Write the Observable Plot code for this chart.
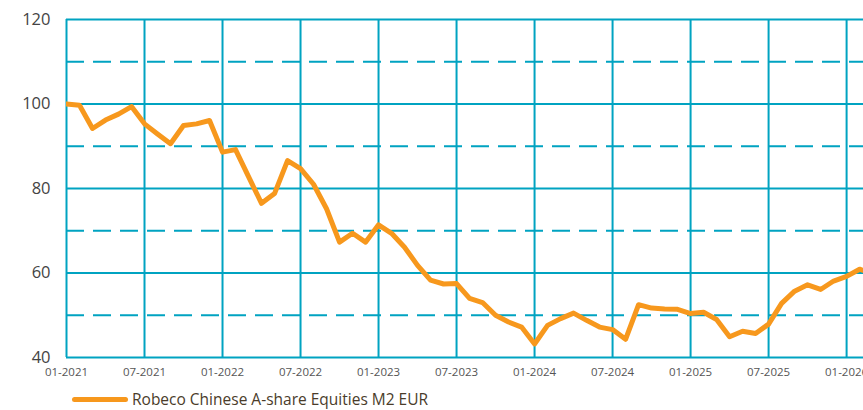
<!DOCTYPE html>
<html>
<head>
<meta charset="utf-8">
<script src="https://cdn.jsdelivr.net/npm/d3@7"></script>
<script src="https://cdn.jsdelivr.net/npm/@observablehq/plot@0.6"></script>
<style>
  html, body { margin: 0; padding: 0; background: #fff; }
  #chart { width: 863px; height: 410px; overflow: hidden; position: relative; }
  .legend { display: flex; align-items: center; height: 22px; padding-left: 72px; font-family: "Open Sans", sans-serif; font-size: 15.5px; color: #4a3c2a; }
  .legend .sw { width: 56px; height: 5px; border-radius: 3px; background: #f7981d; margin-right: 4px; }
</style>
</head>
<body>
<div id="chart"></div>
<script>
// Series: monthly index values, Jan 2021 onward
const seriesName = "Robeco Chinese A-share Equities M2 EUR";
const values = [
  100.0, 99.7, 94.2, 96.2, 97.6, 99.4, 95.3, 92.9, 90.6, 94.9, 95.3, 96.1,
  88.6, 89.2, 82.8, 76.5, 78.8, 86.6, 84.7, 81.0, 75.2, 67.3, 69.4, 67.3,
  71.4, 69.4, 66.1, 61.8, 58.3, 57.4, 57.5, 54.0, 53.0, 50.0, 48.4, 47.2,
  43.2, 47.6, 49.2, 50.5, 48.8, 47.2, 46.6, 44.3, 52.5, 51.7, 51.5, 51.4,
  50.4, 50.7, 49.0, 44.9, 46.2, 45.7, 47.9, 52.8, 55.7, 57.2, 56.1, 58.1,
  59.2, 60.9, 59.8
];
const xTickPositions = [0, 6, 12, 18, 24, 30, 36, 42, 48, 54, 60];
const xTickLabels = ["01-2021", "07-2021", "01-2022", "07-2022", "01-2023", "07-2023",
                     "01-2024", "07-2024", "01-2025", "07-2025", "01-2026"];
const yTicks = [40, 60, 80, 100, 120];
const yDashed = [50, 70, 90, 110];

const data = values.map((v, i) => ({month: i, value: v}));
const grid = "#00a3c1";
const orange = "#f7981d";

const chart = Plot.plot({
  width: 863,
  height: 388,
  marginLeft: 66,
  marginRight: 0,
  marginTop: 19,
  marginBottom: 31,
  style: {fontFamily: "'Open Sans', sans-serif", background: "#fff", overflow: "visible"},
  x: {domain: [0, 61.3], ticks: xTickPositions, tickFormat: (d) => xTickLabels[xTickPositions.indexOf(d)], tickSize: 0, tickPadding: 10, label: null},
  y: {domain: [40, 120], ticks: yTicks, tickSize: 0, tickPadding: 16, label: null},
  marks: [
    Plot.ruleY(yTicks, {stroke: grid, strokeWidth: 2}),
    Plot.ruleY(yDashed, {stroke: grid, strokeWidth: 2, strokeDasharray: "18,9"}),
    Plot.ruleX(xTickPositions, {stroke: grid, strokeWidth: 2}),
    Plot.line(data, {x: "month", y: "value", stroke: orange, strokeWidth: 5, strokeLinejoin: "round", strokeLinecap: "round", clip: true}),
    Plot.axisX({ticks: xTickPositions, tickFormat: (d) => xTickLabels[xTickPositions.indexOf(d)], tickSize: 0, tickPadding: 10, fontSize: 11.5, fill: "#555", label: null}),
    Plot.axisY({ticks: yTicks, tickSize: 0, tickPadding: 16, fontSize: 16.5, fill: "#444", label: null})
  ]
});
const root = document.getElementById("chart");
root.appendChild(chart);
const legend = document.createElement("div");
legend.className = "legend";
legend.innerHTML = '<div class="sw"></div><span></span>';
legend.querySelector("span").textContent = seriesName;
root.appendChild(legend);
</script>
</body>
</html>
